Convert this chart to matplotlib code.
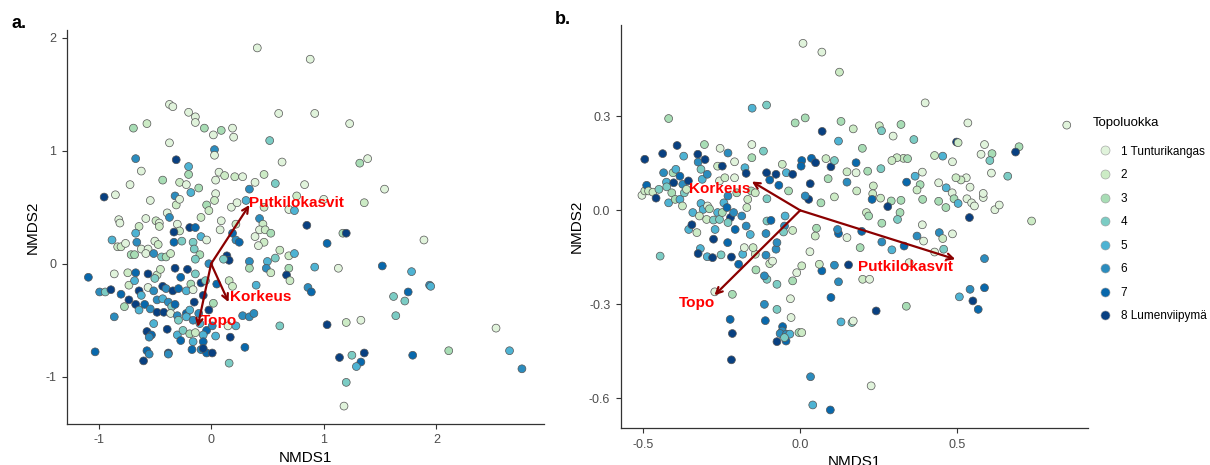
import matplotlib
matplotlib.use("Agg")
import matplotlib.pyplot as plt
from matplotlib.lines import Line2D

plt.rcParams['font.family'] = ['Liberation Sans', 'DejaVu Sans']

# colour classes (Topoluokka 1..8)
class_labels = ["1 Tunturikangas", "2", "3", "4", "5", "6", "7", "8 Lumenviipymä"]
class_colors = ["#e0f3db", "#ccebc5", "#a8ddb5", "#7bccc4",
                "#4eb3d3", "#2b8cbe", "#0868ac", "#084081"]

# ---- panel a: site scores ----
a_x = [0.41, 0.88, -0.37, -0.34, -0.20, -0.14, -0.14, 0.60, 0.92, 1.23,
       -0.69, -0.57, -0.06, 0.02, 0.09, 0.19, 0.20, 0.52, -0.37, 0.03,
       0.03, -0.67, -0.31, -0.20, 0.63, 1.32, 1.39, -0.62, -0.20, 0.07,
       0.12, 0.21, 0.28, 0.47, 0.39, 0.04, -0.43, -0.28, -0.22, -0.11,
       -0.72, 0.57, 0.83, 0.34, 1.54, -0.95, -0.85, -0.32, -0.18, 0.04,
       -0.54, -0.31, -0.28, -0.04, 0.03, 0.18, 0.23, 0.31, 0.47, 0.69,
       0.74, 0.76, 1.00, 1.36, -0.02, -0.39, -0.37, -0.82, -0.81, -0.58,
       -0.49, -0.46, -0.46, -0.64, -0.67, -0.30, -0.19, -0.14, -0.28, -0.33,
       -0.09, 0.09, 0.08, 0.22, 0.43, 0.46, 0.43, 0.48, 0.53, 0.39,
       0.47, 0.42, 0.19, 0.22, 0.25, 0.85, 1.17, 1.20, 1.89, 1.03,
       -0.88, -0.83, -0.80, -0.76, -0.66, -0.62, -0.56, -0.50, -0.47, -0.33,
       -0.26, -0.16, -0.09, -0.04, -0.15, -0.10, -0.71, -0.68, -0.58, -0.51,
       -0.44, -0.40, -0.36, -0.14, 0.14, 0.16, 0.11, -0.02, 0.34, 0.50,
       0.57, 0.61, 0.69, 0.74, 0.49, 0.53, 0.34, 0.69, 0.67, 0.70,
       0.92, 1.13, 1.52, 1.78, 1.94, 1.95, 0.86, 0.89, 1.62, 1.75,
       1.72, 1.64, -1.09, -0.86, -0.74, -0.67, -0.73, -0.68, -0.56, -0.48,
       -0.45, -0.50, -0.56, -0.32, -0.21, -0.27, -0.14, -0.18, -0.09, -0.05,
       0.05, 0.16, 0.19, 0.40, -0.99, -0.94, -0.89, -0.80, -0.64, -0.62,
       -0.51, -0.43, -0.40, -0.34, -0.29, -0.22, -0.16, -0.07, -0.73, -0.67,
       -0.77, -0.64, -0.59, -0.54, -0.48, -0.43, -0.38, -0.35, -0.32, -0.48,
       -0.42, -0.36, -0.30, -0.22, -0.19, -0.15, -0.11, -0.02, 0.02, -0.86,
       -0.51, -0.39, -0.29, -0.22, -0.16, -0.10, -0.04, 0.01, 0.15, 0.22,
       0.28, 0.34, 0.38, -0.57, -0.53, -0.55, -0.30, -0.25, -0.19, -0.14,
       -0.27, -0.16, -0.07, -0.07, 0.04, 0.17, -1.03, -0.57, -0.55, -0.38,
       -0.38, -0.60, -0.17, -0.09, -0.04, 0.01, -0.07, 0.30, 0.16, 0.61,
       1.03, 1.20, 1.33, 1.14, 1.25, 1.36, 1.33, 1.29, 1.20, 1.18,
       1.79, 2.11, 2.53, 2.65, 2.76]
a_y = [1.91, 1.81, 1.41, 1.39, 1.34, 1.30, 1.25, 1.33, 1.33, 1.24,
       1.20, 1.24, 1.20, 1.14, 1.18, 1.20, 1.12, 1.09, 1.07, 1.01,
       0.96, 0.93, 0.92, 0.86, 0.90, 0.89, 0.93, 0.82, 0.79, 0.81,
       0.78, 0.77, 0.77, 0.79, 0.72, 0.74, 0.74, 0.72, 0.70, 0.67,
       0.70, 0.71, 0.70, 0.66, 0.66, 0.59, 0.61, 0.60, 0.63, 0.62,
       0.56, 0.52, 0.57, 0.52, 0.56, 0.50, 0.54, 0.56, 0.50, 0.48,
       0.47, 0.60, 0.57, 0.54, 0.47, 0.45, 0.41, 0.39, 0.36, 0.40,
       0.38, 0.36, 0.33, 0.33, 0.27, 0.35, 0.32, 0.32, 0.29, 0.28,
       0.41, 0.38, 0.30, 0.35, 0.40, 0.35, 0.30, 0.30, 0.27, 0.24,
       0.19, 0.16, 0.27, 0.21, 0.19, 0.34, 0.27, 0.27, 0.21, 0.18,
       0.21, 0.15, 0.15, 0.18, 0.19, 0.13, 0.13, 0.20, 0.17, 0.19,
       0.20, 0.19, 0.24, 0.21, 0.13, 0.08, 0.08, 0.08, 0.09, 0.09,
       0.06, 0.06, 0.09, 0.04, 0.07, 0.03, 0.04, 0.00, 0.02, 0.02,
       0.05, 0.12, 0.07, 0.09, -0.04, -0.08, -0.04, -0.04, -0.10, -0.15,
       -0.03, -0.04, -0.02, -0.07, -0.19, -0.20, -0.21, -0.25, -0.29, -0.25,
       -0.33, -0.46, -0.12, -0.09, -0.08, -0.08, -0.19, -0.15, -0.09, -0.10,
       -0.05, -0.13, -0.21, -0.04, -0.05, -0.12, -0.09, -0.18, -0.17, -0.15,
       -0.18, -0.15, -0.20, -0.19, -0.25, -0.25, -0.23, -0.27, -0.24, -0.28,
       -0.24, -0.20, -0.22, -0.24, -0.22, -0.24, -0.23, -0.28, -0.32, -0.36,
       -0.38, -0.41, -0.36, -0.40, -0.32, -0.31, -0.34, -0.38, -0.36, -0.43,
       -0.43, -0.44, -0.46, -0.44, -0.41, -0.34, -0.44, -0.41, -0.35, -0.47,
       -0.53, -0.58, -0.50, -0.47, -0.50, -0.53, -0.59, -0.55, -0.55, -0.55,
       -0.46, -0.47, -0.44, -0.60, -0.63, -0.65, -0.63, -0.59, -0.62, -0.61,
       -0.68, -0.69, -0.63, -0.69, -0.64, -0.65, -0.78, -0.77, -0.80, -0.79,
       -0.80, -0.86, -0.76, -0.76, -0.79, -0.79, -0.75, -0.74, -0.88, -0.55,
       -0.54, -0.52, -0.50, -0.83, -0.81, -0.79, -0.87, -0.91, -1.05, -1.26,
       -0.81, -0.77, -0.57, -0.77, -0.93]
a_cls = [1, 1, 1, 1, 1, 1, 1, 1, 1, 1,
         3, 2, 3, 1, 3, 1, 1, 4, 1, 6,
         1, 6, 8, 5, 1, 3, 1, 1, 3, 1,
         2, 2, 1, 2, 1, 1, 3, 2, 1, 3,
         1, 4, 1, 6, 1, 8, 1, 6, 5, 1,
         1, 2, 1, 3, 2, 1, 1, 5, 2, 1,
         5, 2, 1, 2, 2, 1, 6, 1, 1, 1,
         2, 1, 2, 2, 5, 1, 8, 7, 2, 8,
         2, 1, 1, 2, 6, 2, 1, 2, 3, 1,
         2, 1, 7, 6, 7, 8, 3, 8, 1, 7,
         5, 2, 2, 1, 6, 1, 1, 1, 2, 7,
         4, 4, 5, 1, 4, 3, 3, 3, 1, 6,
         4, 3, 2, 4, 8, 8, 4, 6, 6, 5,
         4, 2, 2, 5, 6, 2, 3, 3, 8, 2,
         5, 1, 7, 5, 6, 5, 6, 7, 4, 7,
         4, 4, 7, 1, 2, 7, 2, 5, 8, 2,
         2, 4, 1, 8, 8, 7, 4, 3, 8, 4,
         7, 2, 2, 5, 6, 4, 8, 7, 8, 5,
         6, 8, 6, 8, 7, 5, 1, 8, 8, 8,
         3, 5, 7, 6, 6, 5, 6, 4, 7, 8,
         8, 1, 6, 7, 5, 8, 6, 8, 3, 6,
         5, 8, 4, 5, 6, 5, 7, 6, 1, 5,
         6, 6, 6, 8, 7, 6, 5, 4, 3, 2,
         7, 5, 5, 7, 5, 8, 7, 7, 6, 8,
         6, 8, 7, 6, 7, 8, 8, 7, 4, 4,
         8, 2, 1, 8, 4, 8, 7, 5, 4, 1,
         7, 3, 1, 5, 6]

# panel a: fitted vectors
vec_names = ["Putkilokasvit", "Korkeus", "Topo"]
a_vec_x = [0.34, 0.155, -0.12]
a_vec_y = [0.52, -0.34, -0.56]
a_lab_x = [0.76, 0.44, 0.07]
a_lab_y = [0.54, -0.295, -0.51]

# ---- panel b: site scores ----
b_x = [0.009, 0.069, 0.125, 0.398, -0.419, -0.153, -0.107, -0.016, 0.016, 0.130,
       0.169, 0.252, 0.259, 0.321, 0.296, 0.362, 0.070, 0.122, 0.198, 0.534,
       0.498, 0.503, 0.587, 0.697, 0.686, 0.849, 0.576, 0.611, 0.604, 0.609,
       0.661, 0.737, 0.620, 0.634, 0.583, 0.583, 0.541, 0.529, 0.512, 0.496,
       0.485, 0.454, 0.428, 0.441, 0.465, 0.484, 0.490, 0.503, 0.531, 0.546,
       0.555, 0.539, 0.464, 0.441, 0.389, 0.366, 0.339, 0.382, 0.372, 0.390,
       0.321, 0.290, 0.279, 0.318, 0.310, 0.389, 0.372, 0.393, 0.443, 0.454,
       0.485, 0.457, 0.428, 0.329, 0.342, 0.308, 0.292, 0.257, 0.178, 0.178,
       0.149, 0.215, 0.233, 0.231, 0.256, 0.229, 0.180, 0.149, 0.089, 0.109,
       0.066, 0.211, 0.218, 0.260, 0.196, 0.122, 0.119, 0.149, 0.052, 0.048,
       0.191, 0.260, 0.292, 0.331, 0.347, 0.154, 0.109, 0.069, 0.122, 0.199,
       0.221, 0.098, 0.242, 0.338, 0.165, 0.130, 0.169, 0.507, 0.550, 0.567,
       0.541, 0.587, 0.587, 0.226, 0.033, 0.040, 0.096, 0.031, 0.061, 0.005,
       -0.011, -0.024, -0.031, -0.029, -0.074, -0.074, -0.114, -0.106, -0.114, -0.141,
       -0.097, -0.088, -0.109, -0.143, -0.111, -0.223, -0.216, -0.272, -0.216, -0.219,
       -0.056, -0.057, -0.064, -0.044, -0.074, -0.045, -0.033, -0.004, 0.005, -0.050,
       -0.446, -0.495, -0.504, -0.495, -0.489, -0.483, -0.469, -0.459, -0.450, -0.438,
       -0.435, -0.426, -0.425, -0.419, -0.409, -0.405, -0.403, -0.396, -0.392, -0.383,
       -0.398, -0.383, -0.371, -0.374, -0.369, -0.375, -0.362, -0.356, -0.355, -0.345,
       -0.329, -0.342, -0.326, -0.325, -0.316, -0.312, -0.305, -0.303, -0.296, -0.316,
       -0.309, -0.321, -0.298, -0.295, -0.318, -0.325, -0.296, -0.279, -0.276, -0.289,
       -0.276, -0.271, -0.263, -0.257, -0.257, -0.263, -0.255, -0.248, -0.240, -0.243,
       -0.248, -0.230, -0.230, -0.233, -0.222, -0.230, -0.231, -0.252, -0.219, -0.209,
       -0.209, -0.202, -0.212, -0.207, -0.196, -0.186, -0.183, -0.178, -0.176, -0.172,
       -0.167, -0.170, -0.172, -0.159, -0.154, -0.154, -0.156, -0.150, -0.143, -0.117,
       -0.107, -0.106, -0.106, -0.109, -0.093, -0.097, -0.077, -0.068, -0.057, -0.044,
       -0.037, -0.024, -0.048, -0.050, -0.077, -0.074, -0.024, -0.053, 0.005, 0.036,
       0.049, 0.032, 0.027, 0.016, 0.003, 0.098, 0.109, 0.082]
b_y = [0.533, 0.505, 0.441, 0.343, 0.293, 0.326, 0.336, 0.279, 0.295, 0.284,
       0.260, 0.270, 0.254, 0.274, 0.237, 0.226, 0.252, 0.221, 0.198, 0.279,
       0.218, 0.216, 0.210, 0.203, 0.186, 0.272, 0.179, 0.181, 0.159, 0.119,
       0.109, -0.034, 0.002, 0.017, 0.041, 0.054, 0.074, 0.104, 0.097, 0.104,
       0.155, 0.173, 0.175, 0.088, 0.072, 0.056, 0.037, 0.022, 0.037, 0.024,
       0.014, -0.023, 0.009, 0.029, 0.122, 0.109, 0.090, 0.082, 0.065, 0.035,
       0.032, 0.030, 0.012, -0.007, -0.029, -0.046, -0.082, -0.098, -0.071, -0.090,
       -0.075, -0.124, -0.133, 0.166, 0.165, 0.168, 0.159, 0.133, 0.152, 0.120,
       0.123, 0.125, 0.078, 0.053, 0.039, 0.035, 0.062, 0.090, 0.101, 0.043,
       0.024, -0.007, -0.018, -0.041, -0.067, -0.074, -0.061, -0.087, -0.057, -0.082,
       -0.119, -0.101, -0.126, -0.114, -0.167, -0.174, -0.175, -0.193, -0.228, -0.220,
       -0.220, -0.278, -0.321, -0.306, -0.358, -0.356, -0.353, -0.276, -0.289, -0.316,
       -0.252, -0.247, -0.154, -0.560, -0.531, -0.621, -0.637, -0.132, -0.172, -0.177,
       -0.199, -0.225, -0.282, -0.342, -0.236, -0.316, -0.300, -0.220, -0.209, -0.190,
       -0.170, -0.162, -0.143, -0.140, -0.352, -0.348, -0.268, -0.260, -0.393, -0.477,
       -0.371, -0.385, -0.393, -0.395, -0.419, -0.417, -0.395, -0.390, -0.390, -0.406,
       -0.146, 0.163, 0.048, 0.062, 0.080, 0.062, 0.058, 0.039, 0.067, 0.181,
       0.120, 0.090, 0.075, 0.024, 0.056, 0.120, 0.088, 0.131, 0.207, 0.109,
       0.035, 0.035, 0.173, 0.083, 0.056, 0.014, 0.067, 0.094, -0.061, -0.046,
       -0.071, -0.007, 0.179, 0.154, 0.131, 0.099, 0.210, 0.162, 0.115, 0.022,
       0.003, -0.018, -0.029, 0.014, -0.122, -0.138, -0.148, -0.151, -0.092, 0.005,
       -0.031, -0.061, -0.007, -0.029, 0.094, 0.141, 0.198, 0.141, 0.104, 0.024,
       -0.007, 0.183, 0.046, 0.009, -0.023, -0.039, -0.103, -0.142, -0.149, 0.155,
       0.104, 0.056, -0.007, -0.061, -0.172, -0.018, -0.140, -0.119, 0.136, 0.118,
       0.035, 0.009, -0.050, -0.077, 0.210, 0.168, 0.062, -0.119, 0.056, 0.189,
       0.120, 0.037, -0.034, -0.074, -0.032, 0.097, 0.115, 0.080, 0.147, 0.120,
       0.062, 0.115, -0.018, -0.050, -0.124, -0.103, -0.064, -0.069, 0.159, 0.166,
       0.152, 0.085, 0.035, 0.046, 0.141, 0.139, 0.159, 0.165]
b_cls = [1, 1, 2, 1, 3, 5, 4, 3, 3, 3,
         2, 2, 4, 3, 1, 4, 8, 5, 3, 1,
         8, 2, 1, 3, 8, 1, 1, 3, 4, 1,
         4, 2, 1, 1, 1, 1, 1, 1, 2, 2,
         1, 5, 2, 1, 5, 1, 3, 5, 1, 1,
         1, 8, 3, 3, 1, 5, 7, 3, 2, 3,
         3, 3, 8, 3, 4, 1, 6, 1, 6, 2,
         1, 4, 1, 2, 3, 2, 2, 4, 7, 1,
         2, 3, 2, 2, 2, 7, 2, 6, 3, 2,
         3, 2, 3, 3, 7, 7, 6, 1, 3, 2,
         3, 6, 5, 7, 1, 8, 6, 7, 6, 2,
         1, 7, 8, 3, 4, 5, 1, 5, 8, 7,
         6, 7, 6, 1, 6, 5, 7, 1, 2, 2,
         1, 3, 1, 1, 4, 4, 6, 4, 6, 3,
         2, 1, 6, 2, 7, 7, 3, 1, 8, 8,
         7, 6, 6, 6, 8, 7, 5, 3, 2, 4,
         4, 8, 1, 2, 7, 2, 2, 8, 4, 8,
         6, 5, 4, 5, 3, 3, 8, 5, 8, 7,
         3, 5, 5, 6, 4, 2, 2, 8, 5, 8,
         2, 5, 8, 6, 4, 5, 3, 8, 6, 5,
         5, 2, 2, 1, 5, 8, 5, 8, 8, 3,
         4, 5, 5, 4, 1, 2, 1, 8, 2, 5,
         3, 6, 6, 7, 8, 4, 7, 4, 8, 1,
         1, 3, 6, 7, 7, 6, 5, 1, 5, 8,
         2, 2, 6, 5, 1, 3, 3, 2, 2, 4,
         8, 4, 4, 6, 7, 7, 8, 7, 2, 5,
         3, 8, 5, 6, 6, 6, 2, 4, 7, 7,
         8, 8, 8, 6, 7, 8, 4, 2]

b_vec_x = [0.494, -0.154, -0.273]
b_vec_y = [-0.156, 0.092, -0.271]
b_lab_x = [0.334, -0.256, -0.329]
b_lab_y = [-0.181, 0.067, -0.296]

W, H = 1210, 465
fig = plt.figure(figsize=(W / 100, H / 100), dpi=100)
ax_a = fig.add_axes([66.7 / W, 1 - 424 / H, (543.6 - 66.7) / W, (424 - 30) / H])
ax_b = fig.add_axes([620.7 / W, 1 - 428.3 / H, (1088 - 620.7) / W, (428.3 - 25) / H])


def draw_panel(ax, xs, ys, cls, vx, vy, lx, ly):
    cols = [class_colors[c - 1] for c in cls]
    ax.scatter(xs, ys, s=32, c=cols, edgecolors="#555555", linewidths=0.5, zorder=2)
    ax.margins(0.05)
    for name, ex, ey, tx, ty in zip(vec_names, vx, vy, lx, ly):
        ax.annotate("", xy=(ex, ey), xytext=(0, 0),
                    arrowprops=dict(arrowstyle="->", color="#8B0000", lw=1.6,
                                    mutation_scale=11, shrinkA=0, shrinkB=0),
                    zorder=3)
        ax.text(tx, ty, name, color="#FF0000", fontweight="bold", fontsize=11,
                ha="center", va="center", zorder=4)
    for s in ["top", "right"]:
        ax.spines[s].set_visible(False)
    for s in ["left", "bottom"]:
        ax.spines[s].set_color("#333333")
        ax.spines[s].set_linewidth(0.9)
    ax.tick_params(colors="#333333", labelcolor="#4d4d4d", labelsize=9,
                   length=3.5, width=0.8, pad=4)
    ax.set_xlabel("NMDS1", fontsize=11, labelpad=3)
    ax.set_ylabel("NMDS2", fontsize=11, labelpad=4)


draw_panel(ax_a, a_x, a_y, a_cls, a_vec_x, a_vec_y, a_lab_x, a_lab_y)
ax_a.set_xticks([-1, 0, 1, 2])
ax_a.set_xticklabels(["-1", "0", "1", "2"])
ax_a.set_yticks([-1, 0, 1, 2])
ax_a.set_yticklabels(["-1", "0", "1", "2"])

draw_panel(ax_b, b_x, b_y, b_cls, b_vec_x, b_vec_y, b_lab_x, b_lab_y)
ax_b.set_xticks([-0.5, 0.0, 0.5])
ax_b.set_xticklabels(["-0.5", "0.0", "0.5"])
ax_b.set_yticks([-0.6, -0.3, 0.0, 0.3])
ax_b.set_yticklabels(["-0.6", "-0.3", "0.0", "0.3"])

fig.text(12 / W, 1 - 23 / H, "a.", fontsize=13, fontweight="bold", va="center")
fig.text(555 / W, 1 - 19 / H, "b.", fontsize=13, fontweight="bold", va="center")

# legend: title placed separately to get ggplot's wider gap above the keys
fig.text(1093 / W, 1 - 123 / H, "Topoluokka", fontsize=9.5, va="center")
handles = [Line2D([], [], marker="o", linestyle="", markersize=6.5,
                  markerfacecolor=col, markeredgecolor="#999999",
                  markeredgewidth=0.4)
           for col in class_colors]
fig.legend(handles, class_labels, loc="upper left",
           bbox_to_anchor=(1093 / W, 1 - 145.5 / H), frameon=False,
           fontsize=8.5, handlelength=2.0, handletextpad=0.35,
           labelspacing=0.98, borderpad=0, borderaxespad=0)

fig.savefig("out.png", dpi=100)
